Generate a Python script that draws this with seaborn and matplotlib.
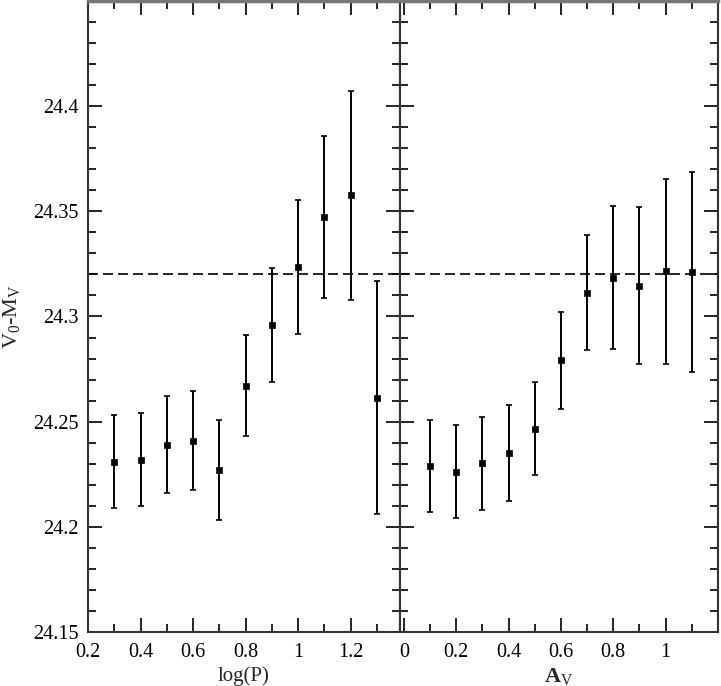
import numpy as np
import pandas as pd
import matplotlib
matplotlib.use("Agg")
import matplotlib.pyplot as plt
import seaborn as sns
from matplotlib.ticker import MultipleLocator, FixedLocator

# Data
logp = [0.3, 0.4, 0.5, 0.6, 0.7, 0.8, 0.9, 1.0, 1.1, 1.2, 1.3]
mod_logp = [24.231, 24.232, 24.239, 24.241, 24.227, 24.267, 24.296, 24.3235, 24.3475, 24.3576, 24.2614]
err_logp = [0.022, 0.022, 0.023, 0.0235, 0.0237, 0.024, 0.027, 0.032, 0.0385, 0.0497, 0.0553]

av = [0.1, 0.2, 0.3, 0.4, 0.5, 0.6, 0.7, 0.8, 0.9, 1.0, 1.1]
mod_av = [24.229, 24.2262, 24.2302, 24.2353, 24.2467, 24.2791, 24.3114, 24.3184, 24.3146, 24.3215, 24.321]
err_av = [0.022, 0.022, 0.022, 0.0228, 0.0222, 0.023, 0.0273, 0.034, 0.0373, 0.044, 0.0476]

ref_level = 24.32

left_ticks = [0.2, 0.4, 0.6, 0.8, 1.0, 1.2]
left_labels = ["0.2", "0.4", "0.6", "0.8", "1", "1.2"]
right_ticks = [0.0, 0.2, 0.4, 0.6, 0.8, 1.0]
right_labels = ["0", "0.2", "0.4", "0.6", "0.8", "1"]
y_ticks = [24.15, 24.2, 24.25, 24.3, 24.35, 24.4]
y_labels = ["24.15", "24.2", "24.25", "24.3", "24.35", "24.4"]

sns.set_style("ticks")
plt.rcParams["font.family"] = ["Liberation Serif", "DejaVu Serif"]
plt.rcParams["mathtext.fontset"] = "custom"
plt.rcParams["mathtext.rm"] = "Liberation Serif"
plt.rcParams["mathtext.it"] = "Liberation Serif"
plt.rcParams["mathtext.bf"] = "Liberation Serif:bold"

df_l = pd.DataFrame({"x": logp, "y": mod_logp, "e": err_logp})
df_r = pd.DataFrame({"x": av, "y": mod_av, "e": err_av})

fig = plt.figure(figsize=(7.21, 6.86), dpi=100)
axL = fig.add_axes([88/721, 54/686, (400-88)/721, (632-1)/686])
axR = fig.add_axes([400/721, 54/686, (718-400)/721, (632-1)/686], sharey=axL)

for ax, df in ((axL, df_l), (axR, df_r)):
    ax.errorbar(df["x"], df["y"], yerr=df["e"], fmt="none", ecolor="black",
                elinewidth=1.4, capsize=2.5, capthick=1.2, zorder=2)
    sns.scatterplot(data=df, x="x", y="y", ax=ax, marker="s", s=22,
                    color="black", edgecolor="black", linewidth=0.5, zorder=3)
    ax.axhline(ref_level, color="black", linestyle=(0, (6, 3)), linewidth=1.2, zorder=1)
    ax.set_ylim(24.15, 24.45)
    ax.yaxis.set_major_locator(FixedLocator(y_ticks))
    ax.yaxis.set_minor_locator(MultipleLocator(0.01))
    ax.xaxis.set_minor_locator(MultipleLocator(0.1))
    ax.tick_params(which="both", direction="in", top=True, right=True,
                   left=True, bottom=True, colors="black", labelsize=14.5)
    ax.tick_params(which="major", length=10, width=1.2)
    ax.tick_params(which="minor", length=6, width=1.2)
    for s in ax.spines.values():
        s.set_linewidth(1.5)
        s.set_color("#333333")
    ax.spines["top"].set_color("#777777")
    ax.spines["top"].set_linewidth(2.5)

axL.set_xlim(0.2, 1.388)
axL.set_xticks(left_ticks)
axL.set_xticklabels(left_labels)
axL.set_yticks(y_ticks)
axL.set_yticklabels(y_labels)
axL.tick_params(axis="y", pad=7)
axL.set_xlabel("log(P)", fontsize=15, labelpad=3)
axL.set_ylabel(r"V$_0$-M$_V$", fontsize=16)
axL.yaxis.set_label_coords(-0.212, 0.5)

axR.set_xlim(-0.015, 1.2)
axR.set_xticks(right_ticks)
axR.set_xticklabels(right_labels)
axR.tick_params(axis="y", labelleft=False)
axR.set_xlabel(r"$\mathbf{A}_V$", fontsize=16, labelpad=3)
axR.set_ylabel("")

for ax in (axL, axR):
    ax.tick_params(axis="x", pad=8)

fig.savefig("out.png", dpi=100)
